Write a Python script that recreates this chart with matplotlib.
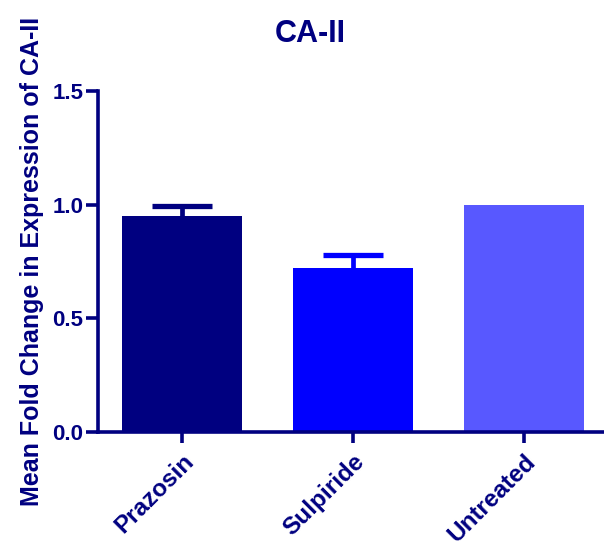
import matplotlib
matplotlib.use("Agg")
import matplotlib.pyplot as plt
import numpy as np

# CA-II expression per treatment (mean fold change, SEM)
groups = ["Prazosin", "Sulpiride", "Untreated"]
mean_fold = [0.95, 0.72, 1.00]
sem = [0.045, 0.06, 0.0]
bar_colors = ["#000080", "#0000FF", "#5858FF"]

navy = "#000080"
plt.rcParams["font.family"] = ["Liberation Sans", "DejaVu Sans"]
plt.rcParams["font.weight"] = "bold"

fig = plt.figure(figsize=(6.04, 5.48), dpi=100)
ax = fig.add_axes([98 / 604, 1 - 432 / 548, 1 - 98 / 604, (432 - 91) / 548])

x = np.arange(len(groups))
ax.bar(x, mean_fold, width=0.70, color=bar_colors, zorder=2)

# upper error bars only, skip groups without spread
for xi, m, e, c in zip(x, mean_fold, sem, bar_colors):
    if e > 0:
        _, caps, _ = ax.errorbar(xi, m, yerr=[[0], [e]], fmt="none", ecolor=c,
                                 elinewidth=3.4, capsize=21.5, capthick=3.8,
                                 zorder=1)
        caps[0].set_visible(False)  # no cap at the bar top

ax.set_xlim(-0.491, 2.468)
ax.set_ylim(0, 1.5)
ax.set_yticks([0.0, 0.5, 1.0, 1.5])
ax.set_yticklabels(["0.0", "0.5", "1.0", "1.5"])
ax.set_xticks(x)
ax.set_xticklabels(groups, rotation=45, ha="right", va="top",
                   rotation_mode="anchor")

for side in ["top", "right"]:
    ax.spines[side].set_visible(False)
for side in ["left", "bottom"]:
    ax.spines[side].set_color(navy)
    ax.spines[side].set_linewidth(2.6)
ax.spines["bottom"].set_zorder(3)

ax.tick_params(axis="y", colors=navy, length=8.6, width=2.6, labelsize=16, pad=2)
ax.tick_params(axis="x", colors=navy, length=8, width=2.6, labelsize=17.5, pad=5)

ax.set_ylabel("Mean Fold Change in Expression of CA-II", color=navy,
              fontsize=18, fontweight="bold", labelpad=6)

fig.text(310 / 604, 1 - 34 / 548, "CA-II", color=navy, fontsize=22,
         fontweight="bold", ha="center", va="center")

fig.savefig("out.png", dpi=100)
